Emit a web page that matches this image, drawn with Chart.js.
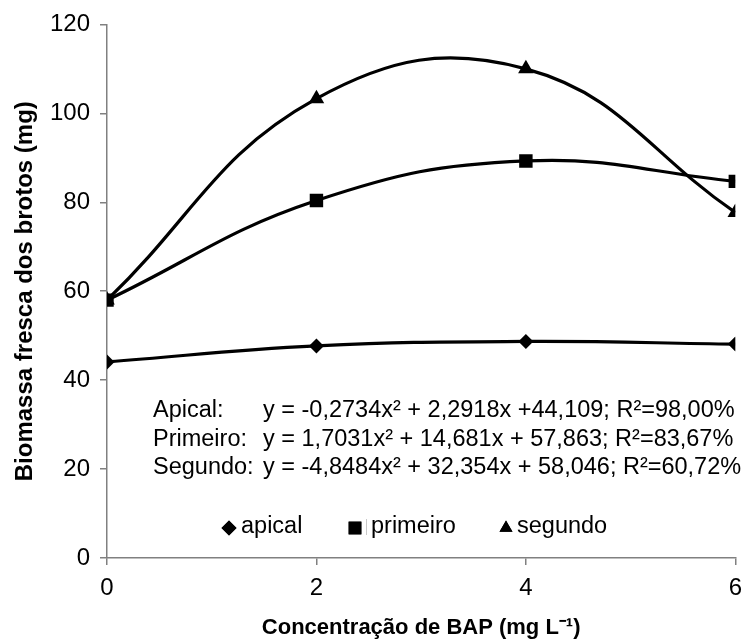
<!DOCTYPE html>
<html>
<head>
<meta charset="utf-8">
<script src="https://cdn.jsdelivr.net/npm/chart.js@4"></script>
<style>
  html, body { margin: 0; padding: 0; background: #fff; }
  #wrap { width: 751px; height: 641px; position: relative; }
</style>
</head>
<body>
<div id="wrap"><canvas id="myChart" width="751" height="641"></canvas></div>
<script>
// concentração de BAP (mg/L)
const concentracoes = [0, 2, 4, 6];
const apical = [44.1, 47.7, 48.7, 48.1];
const primeiro = [58.0, 80.4, 89.3, 84.7];
const segundo = [58.0, 103.3, 110.0, 77.7];
const yTicks = [0, 20, 40, 60, 80, 100, 120];

const equacoes = [
    ["Apical:", "y = -0,2734x² + 2,2918x +44,109; R²=98,00%"],
    ["Primeiro:", "y = 1,7031x² + 14,681x + 57,863; R²=83,67%"],
    ["Segundo:", "y = -4,8484x² + 32,354x + 58,046; R²=60,72%"]
];

const FONT = "'Liberation Sans', Arial, sans-serif";

function pts(vals) {
    return concentracoes.map((x, i) => ({ x: x, y: vals[i] }));
}

// equations + legend drawn inside the plot
const textoPlugin = {
    id: "texto",
    afterDraw(chart) {
        const ctx = chart.ctx;
        ctx.save();
        ctx.fillStyle = "#000";
        ctx.font = "23.5px " + FONT;
        ctx.textBaseline = "alphabetic";
        const base = [417, 446, 474];
        equacoes.forEach((e, i) => {
            ctx.fillText(e[0], 153, base[i]);
            ctx.fillText(e[1], 263, base[i]);
        });

        // legend
        const ly = 527;
        const itens = [
            { label: "apical", style: "rectRot", r: 7.5, mx: 229, tx: 241 },
            { label: "primeiro", style: "rect", r: 9, mx: 355, tx: 371 },
            { label: "segundo", style: "triangle", r: 7.5, mx: 506, tx: 517 }
        ];
        ctx.textBaseline = "middle";
        itens.forEach(it => {
            Chart.helpers.drawPoint(ctx, { pointStyle: it.style, radius: it.r, borderWidth: 0 }, it.mx, ly + 1);
            ctx.fillStyle = "#000";
            ctx.fill();
            ctx.fillText(it.label, it.tx, ly);
        });
        ctx.strokeStyle = "#c8c8c8";
        ctx.lineWidth = 1;
        ctx.beginPath();
        ctx.moveTo(366.5, 519);
        ctx.lineTo(366.5, 535);
        ctx.stroke();
        ctx.restore();
    }
};

const serie = (label, vals, style, r) => ({
    label: label,
    data: pts(vals),
    borderColor: "#000",
    backgroundColor: "#000",
    borderWidth: 3.2,
    tension: 0.42,
    pointStyle: style,
    pointRadius: r,
    pointBorderWidth: 0,
    fill: false
});

const ctx = document.getElementById("myChart").getContext("2d");
new Chart(ctx, {
    type: "line",
    data: {
        datasets: [
            serie("apical", apical, "rectRot", 7.5),
            serie("primeiro", primeiro, "rect", 9.5),
            serie("segundo", segundo, "triangle", 9)
        ]
    },
    options: {
        responsive: false,
        animation: false,
        layout: { padding: { top: 23, right: 13, left: 0, bottom: 0 } },
        plugins: {
            legend: { display: false },
            tooltip: { enabled: false }
        },
        scales: {
            x: {
                type: "linear",
                min: 0,
                max: 6,
                afterBuildTicks: s => { s.ticks = concentracoes.map(v => ({ value: v })); },
                ticks: { color: "#000", font: { family: FONT, size: 24 }, padding: 9, maxRotation: 0 },
                grid: { drawOnChartArea: false, tickLength: 7, color: "#808080", lineWidth: 1.5 },
                border: { color: "#808080", width: 1.5 },
                title: {
                    display: true,
                    text: "Concentração de BAP (mg L⁻¹)",
                    color: "#000",
                    font: { family: FONT, size: 22, weight: "bold" },
                    padding: { top: 3, bottom: 0 }
                },
                afterFit: s => { s.height = 83; }
            },
            y: {
                min: 0,
                max: 120,
                afterBuildTicks: s => { s.ticks = yTicks.map(v => ({ value: v })); },
                ticks: { color: "#000", font: { family: FONT, size: 24 }, padding: 10 },
                grid: { drawOnChartArea: false, tickLength: 7, color: "#808080", lineWidth: 1.5 },
                border: { color: "#808080", width: 1.5 },
                title: {
                    display: true,
                    text: "Biomassa fresca dos brotos (mg)",
                    color: "#000",
                    font: { family: FONT, size: 24, weight: "bold" },
                    padding: { top: 11, bottom: 0 }
                },
                afterFit: s => { s.width = 107; }
            }
        }
    },
    plugins: [textoPlugin]
});
</script>
</body>
</html>
